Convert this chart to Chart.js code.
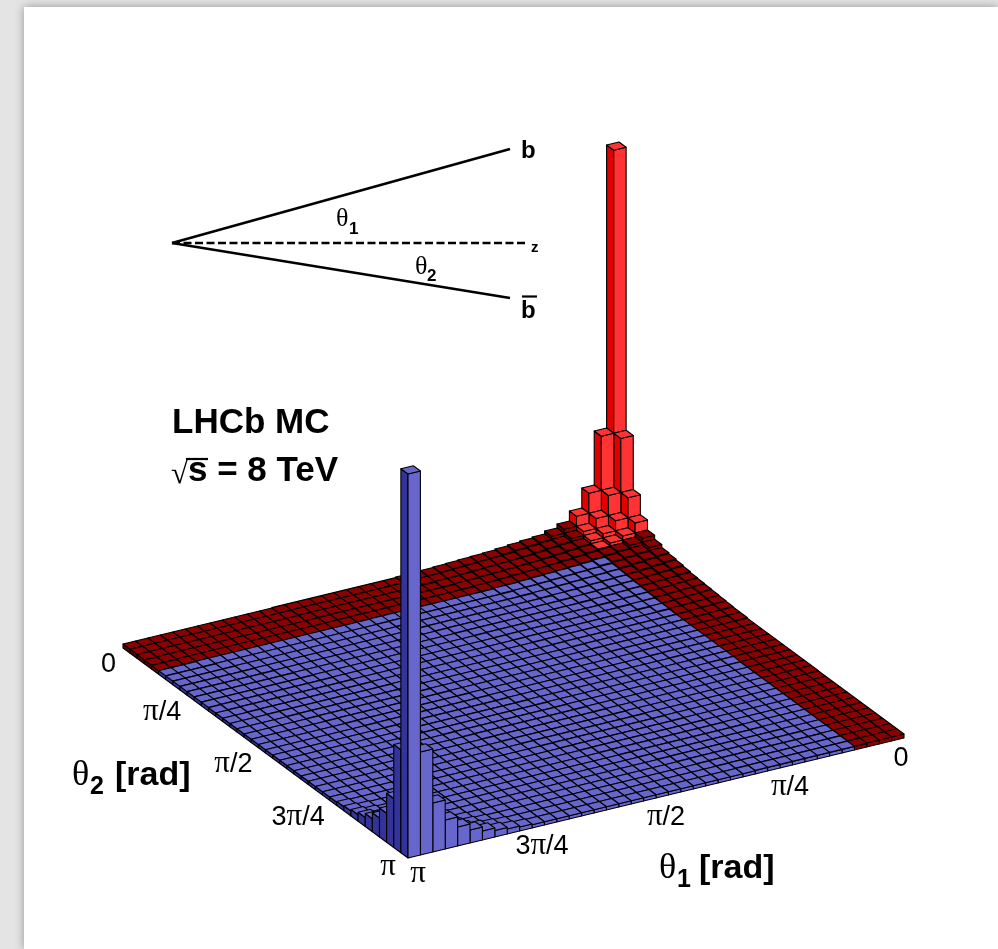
<!DOCTYPE html>
<html><head><meta charset="utf-8">
<script src="https://cdn.jsdelivr.net/npm/chart.js@4/dist/chart.umd.min.js"></script>
<style>
html,body{margin:0;padding:0;width:998px;height:949px;overflow:hidden;background:#e4e4e4}
#sheet{position:absolute;left:24px;top:7px;width:974px;height:942px;background:#fff;box-shadow:0 0 9px rgba(0,0,0,.35)}
#c{position:absolute;left:0;top:0;filter:blur(0.3px)}
</style></head><body>
<div id="sheet"></div>
<canvas id="c" width="998" height="949"></canvas>
<script>
// ---- data ----
const binCount = 40;
// bin height, indexed by (theta1 bin + theta2 bin)
const binHeightByDiagonal = [
 386,103,49,29,19,15,12,11,10,9,
 8,7.5,7,6.5,6,5.5,5,5,4.4,4.4,
 4.4,4.4,4.4,4.4,4.4,4.4,4.4,4.4,4,4,
 4,4,4,4,4,4,4,4,4,4,
 4,4,3.6,3.6,3.6,3.6,3.6,3.6,3.6,3.6,
 3.6,3.2,3.2,3.2,3.2,3.2,3.2,3.2,3.2,3.2,
 3.2,3.2,3.2,3.2,3.2,3.2,3.2,3.2,3.2,4,
 5,6.5,9,13,19,29,49,103,384];
const theta1Ticks = ['0','π/4','π/2','3π/4','π'];
const theta2Ticks = ['0','π/4','π/2','3π/4','π'];
const tickBins = [0,10,20,30,40];
const brightBins = 4;
const bandBinsTheta1 = 4;
const bandBinsTheta2 = 5;

// ---- styling and view ----
const colours = {
  blue:{top:'#6666cc',left:'#333399',right:'#6666cc'},
  dark:{top:'#8b0000',left:'#5c0000',right:'#8b0000'},
  bright:{top:'#ff3333',left:'#e00000',right:'#ff3333'}
};
const view = {x0:619,y0:528,e1x:-12.4,e1y:3,e2x:7.125,e2y:5.25};
function project(a,b,z){
  return {x:view.x0+a*view.e1x+b*view.e2x, y:view.y0+a*view.e1y+b*view.e2y-z};
}
function height(i,j){
  if(i<0||j<0||i>=binCount||j>=binCount) return 0;
  return binHeightByDiagonal[i+j];
}
function palette(i,j){
  if(i<brightBins&&j<brightBins) return colours.bright;
  if(i<bandBinsTheta1||j<bandBinsTheta2) return colours.dark;
  return colours.blue;
}
function face(pts,fillCol){
  const d=pts.concat([pts[0]]);
  return {data:d,parsing:false,showLine:true,fill:'shape',backgroundColor:fillCol,borderColor:'#000',
    borderWidth:1.1,pointRadius:0,pointHoverRadius:0,tension:0,borderJoinStyle:'round'};
}
const painted=[];
for(let s=0;s<=2*(binCount-1);s++){
  for(let i=Math.max(0,s-binCount+1);i<=Math.min(s,binCount-1);i++){
    const j=s-i,h=height(i,j),c=palette(i,j);
    const nA=height(i+1,j),nB=height(i,j+1);
    if(h-nA>=0.45) painted.push(face([project(i+1,j,nA),project(i+1,j+1,nA),project(i+1,j+1,h),project(i+1,j,h)],c.left));
    if(h-nB>=0.45) painted.push(face([project(i+1,j+1,nB),project(i,j+1,nB),project(i,j+1,h),project(i+1,j+1,h)],c.right));
    painted.push(face([project(i,j,h),project(i+1,j,h),project(i+1,j+1,h),project(i,j+1,h)],c.top));
  }
}
// inset sketch and overlines
function stroke(pts,w,dash){
  return {data:pts,parsing:false,showLine:true,fill:false,borderColor:'#000',borderWidth:w,borderDash:dash||[],pointRadius:0,pointHoverRadius:0,tension:0};
}
painted.push(stroke([{x:172,y:243},{x:510,y:149}],2.6));
painted.push(stroke([{x:172,y:243},{x:510,y:298}],2.6));
painted.push(stroke([{x:172,y:243},{x:527,y:243}],2.6,[8,3.5]));
painted.push(stroke([{x:522,y:296.5},{x:537,y:296.5}],2.2));
painted.push(stroke([{x:186,y:459},{x:208,y:459}],2.2));
// Chart.js paints the first dataset last
const datasets=painted.reverse();

const SANS='"Liberation Sans",Arial,sans-serif', SERIF='"Liberation Serif",serif';
const texts=[
 {t:'b',x:521,y:158,f:'bold 24px '+SANS},
 {t:'b',x:521,y:318,f:'bold 24px '+SANS},
 {t:'z',x:531,y:252,f:'bold 15px '+SANS},
 {t:'θ',x:336,y:226,f:'26px '+SERIF},
 {t:'1',x:349,y:234,f:'bold 17px '+SANS},
 {t:'θ',x:415,y:274,f:'26px '+SERIF},
 {t:'2',x:427,y:281,f:'bold 17px '+SANS},
 {t:'LHCb MC',x:172,y:433,f:'bold 35px '+SANS},
 {t:'√',x:171,y:483,f:'31px '+SERIF},
 {t:'s = 8 TeV',x:188,y:481,f:'bold 35px '+SANS},
 {t:'θ',x:72,y:785,f:'36px '+SERIF},
 {t:'2',x:90,y:794,f:'bold 25px '+SANS},
 {t:'[rad]',x:115,y:785,f:'bold 34px '+SANS},
 {t:'θ',x:659,y:878,f:'36px '+SERIF},
 {t:'1',x:677,y:887,f:'bold 25px '+SANS},
 {t:'[rad]',x:699,y:878,f:'bold 34px '+SANS}
];
const theta1Nudge=[[-13,1],[0,0],[0,0],[0,-1],[0,-3]];
const theta2Nudge=[[6,5],[0,0],[0,0],[1,0],[1,-2]];
const textPlugin={id:'textPlugin',afterDatasetsDraw(chart){
  const ctx=chart.ctx,X=chart.scales.x,Y=chart.scales.y;
  ctx.save();ctx.fillStyle='#000';ctx.textBaseline='alphabetic';ctx.textAlign='left';
  for(const o of texts){ctx.font=o.f;ctx.fillText(o.t,X.getPixelForValue(o.x),Y.getPixelForValue(o.y));}
  const tick=(s)=>[...s].map(ch=>({ch,font:ch==='π'?'31px '+SERIF:'27px '+SANS}));
  const width=(s)=>tick(s).reduce((w,p)=>{ctx.font=p.font;return w+ctx.measureText(p.ch).width;},0);
  const put=(s,x,y)=>{let cx=x;for(const p of tick(s)){ctx.font=p.font;ctx.fillText(p.ch,cx,y);cx+=ctx.measureText(p.ch).width;}};
  theta1Ticks.forEach((s,k)=>{
    const p=project(tickBins[k],binCount,0),w=width(s);
    put(s,X.getPixelForValue(p.x+10+theta1Nudge[k][0])-w/2,Y.getPixelForValue(p.y+27+theta1Nudge[k][1]));
  });
  theta2Ticks.forEach((s,k)=>{
    const p=project(binCount,tickBins[k],0),w=width(s);
    put(s,X.getPixelForValue(p.x-13+theta2Nudge[k][0])-w,Y.getPixelForValue(p.y+19+theta2Nudge[k][1]));
  });
  ctx.restore();
}};
new Chart(document.getElementById('c'),{
  type:'scatter',
  data:{datasets},
  plugins:[textPlugin],
  options:{
    responsive:false,animation:false,events:[],
    layout:{padding:0},
    plugins:{legend:{display:false},tooltip:{enabled:false},colors:{enabled:false},filler:{propagate:false}},
    scales:{
      x:{type:'linear',min:0,max:998,display:false},
      y:{type:'linear',min:0,max:949,reverse:true,display:false}
    }
  }
});
</script></body></html>
